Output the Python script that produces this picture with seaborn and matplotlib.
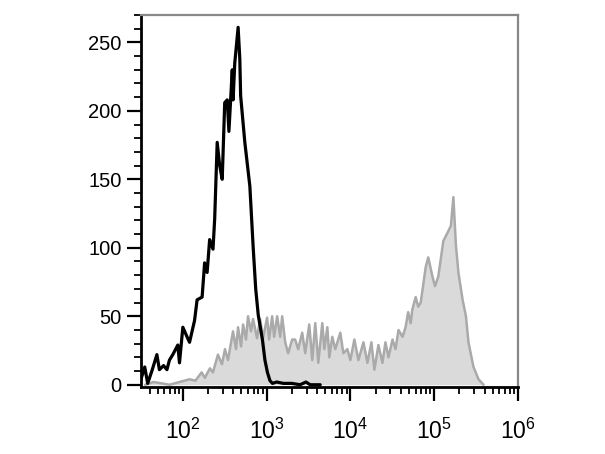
import matplotlib
matplotlib.use("Agg")
import matplotlib.pyplot as plt
from matplotlib.ticker import MultipleLocator, LogLocator, NullFormatter, FixedLocator
import numpy as np
import pandas as pd
import seaborn as sns

# unstained control (black line): log10 fluorescence, event count
ctrl_log = [1.50, 1.545, 1.58, 1.63, 1.69, 1.72, 1.77, 1.81, 1.84, 1.88, 1.94, 1.96,
            2.00, 2.05, 2.08, 2.14, 2.17, 2.23, 2.26, 2.29, 2.32, 2.36, 2.38, 2.41,
            2.44, 2.47, 2.50, 2.53, 2.55, 2.59, 2.60, 2.62, 2.66, 2.68, 2.69, 2.74,
            2.80, 2.84, 2.87, 2.90, 2.95, 2.98, 3.01, 3.04, 3.07, 3.12, 3.20, 3.30,
            3.40, 3.47, 3.52, 3.64]
ctrl_cnt = [4, 13, 1, 10, 22, 11, 14, 11, 18, 22, 29, 16,
            42, 35, 31, 47, 62, 64, 89, 82, 106, 99, 121, 177,
            160, 150, 206, 208, 185, 230, 208, 235, 261, 238, 211, 177,
            145, 100, 70, 51, 33, 18, 9, 3, 1, 2, 1, 1,
            0, 2, 0, 0]

# stained sample (grey filled)
stain_log = [1.55, 1.65, 1.75, 1.84, 1.96, 2.08, 2.15,
             2.224, 2.263, 2.323, 2.359, 2.419, 2.467, 2.503, 2.539, 2.599, 2.635,
             2.659, 2.695, 2.719, 2.754, 2.778, 2.814, 2.838, 2.886, 2.922, 2.958,
             3.006, 3.030, 3.066, 3.090, 3.126, 3.162, 3.186, 3.222, 3.257, 3.305,
             3.341, 3.377, 3.425, 3.461, 3.509, 3.545, 3.581, 3.617, 3.665, 3.689,
             3.725, 3.749, 3.784, 3.820, 3.880, 3.916, 3.964, 4.000, 4.048, 4.096,
             4.156, 4.204, 4.251, 4.287, 4.335, 4.383, 4.419, 4.455, 4.503, 4.539,
             4.575, 4.623, 4.659, 4.69, 4.72, 4.74, 4.78, 4.81, 4.84, 4.90,
             4.93, 4.98, 5.01, 5.05, 5.11, 5.16, 5.20, 5.23, 5.26, 5.29,
             5.34, 5.38, 5.41, 5.47, 5.53, 5.59]
stain_cnt = [0, 2, 1, 0, 2, 4, 3,
             9, 5, 12, 9, 22, 15, 26, 18, 39, 26,
             42, 28, 44, 33, 50, 39, 48, 34, 48, 34,
             49, 33, 50, 35, 50, 35, 50, 31, 23, 33,
             33, 26, 38, 23, 44, 18, 45, 16, 45, 26,
             42, 20, 35, 26, 38, 23, 26, 18, 33, 18,
             31, 16, 31, 11, 29, 16, 31, 20, 33, 26,
             40, 35, 42, 53, 45, 55, 64, 57, 60, 86,
             93, 79, 72, 79, 105, 111, 116, 137, 102, 82,
             62, 50, 31, 13, 4, 0]

ctrl = pd.DataFrame({"fl": 10 ** np.array(ctrl_log), "count": ctrl_cnt})
stain = pd.DataFrame({"fl": 10 ** np.array(stain_log), "count": stain_cnt})

sns.set_style("ticks")
plt.rcParams["font.family"] = ["Liberation Sans", "DejaVu Sans"]
plt.rcParams["mathtext.fontset"] = "custom"
plt.rcParams["mathtext.rm"] = "Liberation Sans"
plt.rcParams["mathtext.it"] = "Liberation Sans"

fig = plt.figure(figsize=(6.05, 4.54), dpi=100)
ax = fig.add_axes([0.233, 0.148, 0.623, 0.819])

ax.fill_between(stain["fl"], 0, stain["count"], color="#dadada", lw=0, zorder=1)
sns.lineplot(data=stain, x="fl", y="count", color="#aaaaaa", lw=1.8, ax=ax, zorder=2)
sns.lineplot(data=ctrl, x="fl", y="count", color="black", lw=2.3, ax=ax, zorder=3)

ax.set_xscale("log")
ax.set_xlim(10 ** 1.5, 10 ** 6)
ax.set_ylim(-1.5, 270)
ax.set_xlabel("")
ax.set_ylabel("")

ax.yaxis.set_major_locator(FixedLocator([0, 50, 100, 150, 200, 250]))
ax.yaxis.set_minor_locator(MultipleLocator(10))
ax.xaxis.set_major_locator(FixedLocator([1e2, 1e3, 1e4, 1e5, 1e6]))
ax.xaxis.set_minor_locator(LogLocator(base=10, subs=np.arange(2, 10), numticks=20))
ax.xaxis.set_minor_formatter(NullFormatter())
ax.set_xticklabels([r"$10^{2}$", r"$10^{3}$", r"$10^{4}$", r"$10^{5}$", r"$10^{6}$"])

ax.tick_params(axis="y", which="major", length=10, width=1.6, labelsize=14.5, pad=4,
               color="black", labelcolor="black")
ax.tick_params(axis="y", which="minor", length=5, width=1.3, color="black")
ax.tick_params(axis="x", which="major", length=10, width=1.6, labelsize=16.5, pad=13,
               color="black", labelcolor="black")
ax.tick_params(axis="x", which="minor", length=5, width=1.3, color="black")

for side in ("left", "bottom"):
    ax.spines[side].set_color("black")
    ax.spines[side].set_linewidth(2)
for side in ("top", "right"):
    ax.spines[side].set_visible(True)
    ax.spines[side].set_color("#888888")
    ax.spines[side].set_linewidth(1.6)

fig.savefig("out.png", dpi=100)
